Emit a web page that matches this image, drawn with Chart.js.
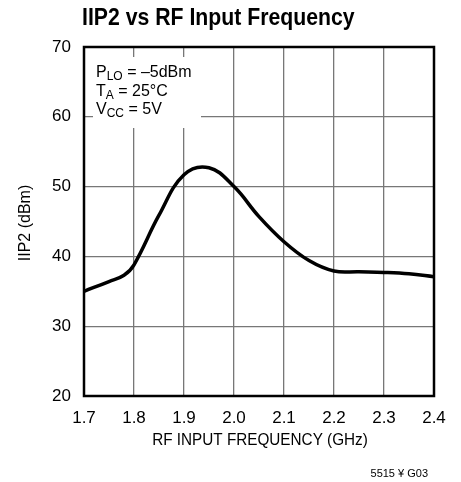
<!DOCTYPE html>
<html>
<head>
<meta charset="utf-8">
<script src="https://cdn.jsdelivr.net/npm/chart.js@4"></script>
<style>
    html, body { margin: 0; padding: 0; background: #fff; }
    #wrap { width: 461px; height: 482px; }
</style>
</head>
<body>
<div id="wrap"><canvas id="iip2Chart" width="461" height="482"></canvas></div>
<script>
const freqGHz = [1.70, 1.75, 1.78, 1.80, 1.85, 1.90, 1.95, 2.00, 2.05, 2.10, 2.15, 2.20, 2.25, 2.30, 2.35, 2.40];
const iip2dBm = [35.0, 36.4, 37.3, 38.8, 45.9, 51.7, 52.7, 50.0, 45.7, 42.1, 39.4, 37.9, 37.8, 37.7, 37.5, 37.1];
const xTicks = [1.7, 1.8, 1.9, 2.0, 2.1, 2.2, 2.3, 2.4];
const yTicks = [20, 30, 40, 50, 60, 70];

const FONT = '"Liberation Sans", Arial, sans-serif';

// draw text squeezed horizontally to mimic the condensed face of the original
function narrowText(ctx, text, x, y, squeeze) {
    ctx.save();
    ctx.translate(x, y);
    ctx.scale(squeeze, 1);
    ctx.fillText(text, 0, 0);
    ctx.restore();
}

const textPlugin = {
    id: 'textPlugin',
    beforeDatasetsDraw(chart) {
        const {ctx, chartArea} = chart;
        // white box behind the conditions note
        ctx.save();
        ctx.fillStyle = '#fff';
        ctx.fillRect(chartArea.left + 9, chartArea.top + 10, 108, 71);
        ctx.restore();
    },
    afterDraw(chart) {
        const {ctx, chartArea} = chart;
        ctx.save();
        // frame
        ctx.strokeStyle = '#000';
        ctx.lineWidth = 2.5;
        ctx.strokeRect(chartArea.left, chartArea.top, chartArea.right - chartArea.left, chartArea.bottom - chartArea.top);

        ctx.fillStyle = '#000';
        ctx.textBaseline = 'alphabetic';

        // title
        ctx.font = `bold 24px ${FONT}`;
        ctx.textAlign = 'left';
        narrowText(ctx, 'IIP2 vs RF Input Frequency', 82, 25, 0.885);

        // conditions note
        const note = [
            ['P', 'LO', ' = \u20135dBm'],
            ['T', 'A', ' = 25\u00B0C'],
            ['V', 'CC', ' = 5V']
        ];
        let y = 77;
        note.forEach(([main, sub, rest]) => {
            let x = 96;
            ctx.font = `16px ${FONT}`;
            ctx.fillText(main, x, y);
            x += ctx.measureText(main).width;
            ctx.font = `12px ${FONT}`;
            ctx.fillText(sub, x, y + 3);
            x += ctx.measureText(sub).width;
            ctx.font = `16px ${FONT}`;
            ctx.fillText(rest, x, y);
            y += 18.5;
        });

        // axis titles
        ctx.font = `16px ${FONT}`;
        ctx.textAlign = 'center';
        narrowText(ctx, 'RF INPUT FREQUENCY (GHz)', 260, 445, 0.955);

        ctx.save();
        ctx.translate(30, 223);
        ctx.rotate(-Math.PI / 2);
        ctx.fillText('IIP2 (dBm)', 0, 0);
        ctx.restore();

        // figure code
        ctx.font = `11px ${FONT}`;
        ctx.textAlign = 'right';
        ctx.fillText('5515 \u00A5 G03', 428, 477);
        ctx.restore();
    }
};

const ctx = document.getElementById('iip2Chart').getContext('2d');
new Chart(ctx, {
    type: 'line',
    data: {
        datasets: [{
            data: freqGHz.map((f, i) => ({x: f, y: iip2dBm[i]})),
            borderColor: '#000',
            borderWidth: 3.5,
            pointRadius: 0,
            tension: 0.4,
            fill: false
        }]
    },
    options: {
        responsive: false,
        animation: false,
        layout: { padding: { top: 47, right: 27, left: 0, bottom: 0 } },
        plugins: {
            legend: { display: false },
            title: { display: false },
            tooltip: { enabled: false }
        },
        scales: {
            x: {
                type: 'linear',
                min: 1.7,
                max: 2.4,
                afterBuildTicks: (axis) => { axis.ticks = xTicks.map(v => ({value: v})); },
                afterFit: (axis) => { axis.height = 86; },
                grid: { color: '#777', lineWidth: 1.3, drawTicks: false },
                border: { display: false },
                ticks: {
                    color: '#000',
                    padding: 12,
                    font: { family: FONT, size: 17 },
                    callback: (v) => v.toFixed(1)
                }
            },
            y: {
                min: 20,
                max: 70,
                afterBuildTicks: (axis) => { axis.ticks = yTicks.map(v => ({value: v})); },
                afterFit: (axis) => { axis.width = 84; },
                grid: { color: '#777', lineWidth: 1.3, drawTicks: false },
                border: { display: false },
                ticks: {
                    color: '#000',
                    padding: 13,
                    font: { family: FONT, size: 17 }
                }
            }
        }
    },
    plugins: [textPlugin]
});
</script>
</body>
</html>
